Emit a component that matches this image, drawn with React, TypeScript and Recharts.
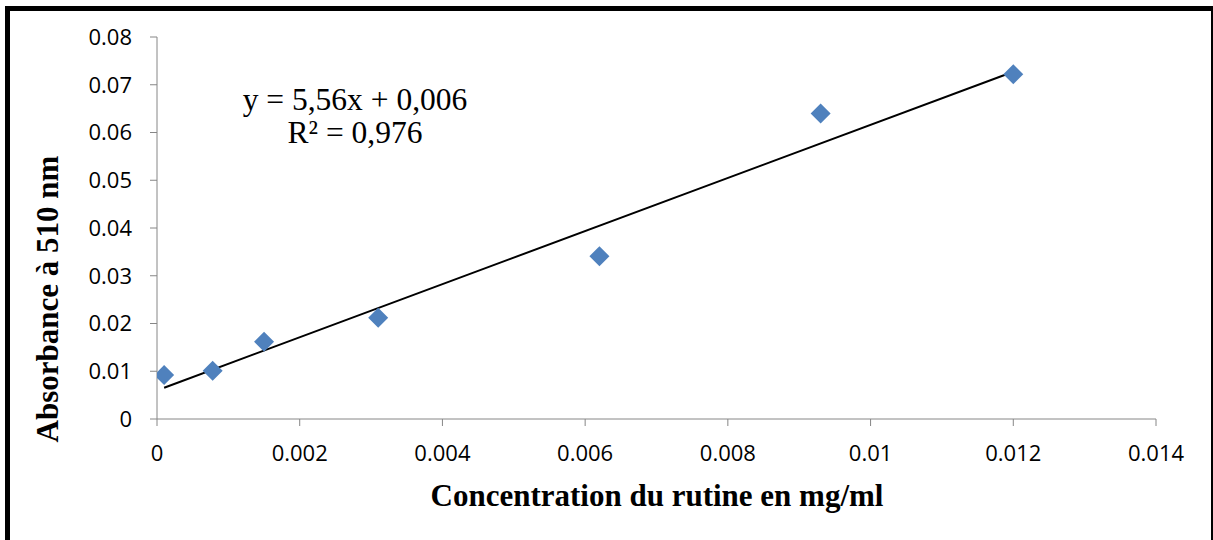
import { ScatterChart, Scatter, XAxis, YAxis, Customized } from 'recharts';

// rutin calibration: concentration (mg/ml) vs absorbance at 510 nm
const concentrations = [0.0001, 0.00078, 0.0015, 0.0031, 0.0062, 0.0093, 0.012];
const absorbances = [0.0092, 0.0101, 0.0162, 0.0212, 0.0341, 0.064, 0.0722];

const xTicks = [0, 0.002, 0.004, 0.006, 0.008, 0.01, 0.012, 0.014];
const yTicks = [0, 0.01, 0.02, 0.03, 0.04, 0.05, 0.06, 0.07, 0.08];

// linear fit reported on the chart
const slope = 5.56;
const intercept = 0.006;
const fitRange = [0.0001, 0.012];

const points = concentrations.map((x, i) => ({ x, y: absorbances[i] }));
const fitLine = fitRange.map((x) => ({ x, y: slope * x + intercept }));

const AXIS_COLOR = '#868686';
const MARKER_COLOR = '#4F81BD';
const TICK_FONT = { fontFamily: '"Open Sans", sans-serif', fontSize: 22, fill: '#000' };
const SERIF = '"Liberation Serif", "Times New Roman", serif';

const Diamond = (props: any) => {
  const { cx, cy } = props;
  const r = 10;
  return (
    <polygon
      points={`${cx},${cy - r} ${cx + r},${cy} ${cx},${cy + r} ${cx - r},${cy}`}
      fill={MARKER_COLOR}
    />
  );
};

const Annotations = () => (
  <g fontFamily={SERIF} fill="#000">
    <text x={355} y={110} fontSize={31.5} textAnchor="middle">
      y = 5,56x + 0,006
    </text>
    <text x={355} y={143} fontSize={31.5} textAnchor="middle">
      R² = 0,976
    </text>
    <text x={657} y={506} fontSize={31} fontWeight="bold" textAnchor="middle">
      Concentration du rutine en mg/ml
    </text>
    <text
      x={58}
      y={299}
      fontSize={31}
      fontWeight="bold"
      textAnchor="middle"
      transform="rotate(-90, 58, 299)"
    >
      Absorbance à 510 nm
    </text>
  </g>
);

export default function App() {
  return (
    <div style={{ position: 'absolute', left: 0, top: 0, width: 1213, height: 540, background: '#fff' }}>
      <div
        style={{
          position: 'absolute',
          left: 5,
          top: 6,
          width: 1201,
          height: 540,
          borderLeft: '5px solid #000',
          borderTop: '5px solid #000',
          borderRight: '2px solid #000',
        }}
      />
      <ScatterChart
        width={1213}
        height={540}
        margin={{ top: 37, right: 57, bottom: 0, left: 0 }}
        style={{ position: 'absolute', left: 0, top: 0 }}
      >
        <XAxis
          type="number"
          dataKey="x"
          domain={[0, 0.014]}
          ticks={xTicks}
          interval={0}
          stroke={AXIS_COLOR}
          tickSize={7}
          tickMargin={19}
          tick={TICK_FONT}
          height={121}
          allowDataOverflow
        />
        <YAxis
          type="number"
          dataKey="y"
          domain={[0, 0.08]}
          ticks={yTicks}
          interval={0}
          stroke={AXIS_COLOR}
          tickSize={7}
          tickMargin={18}
          tick={TICK_FONT}
          width={157}
          allowDataOverflow
        />
        <Scatter
          data={fitLine}
          line={{ stroke: '#000', strokeWidth: 2 }}
          shape={() => null}
          isAnimationActive={false}
        />
        <Scatter data={points} shape={<Diamond />} isAnimationActive={false} />
        <Customized component={Annotations} />
      </ScatterChart>
    </div>
  );
}
